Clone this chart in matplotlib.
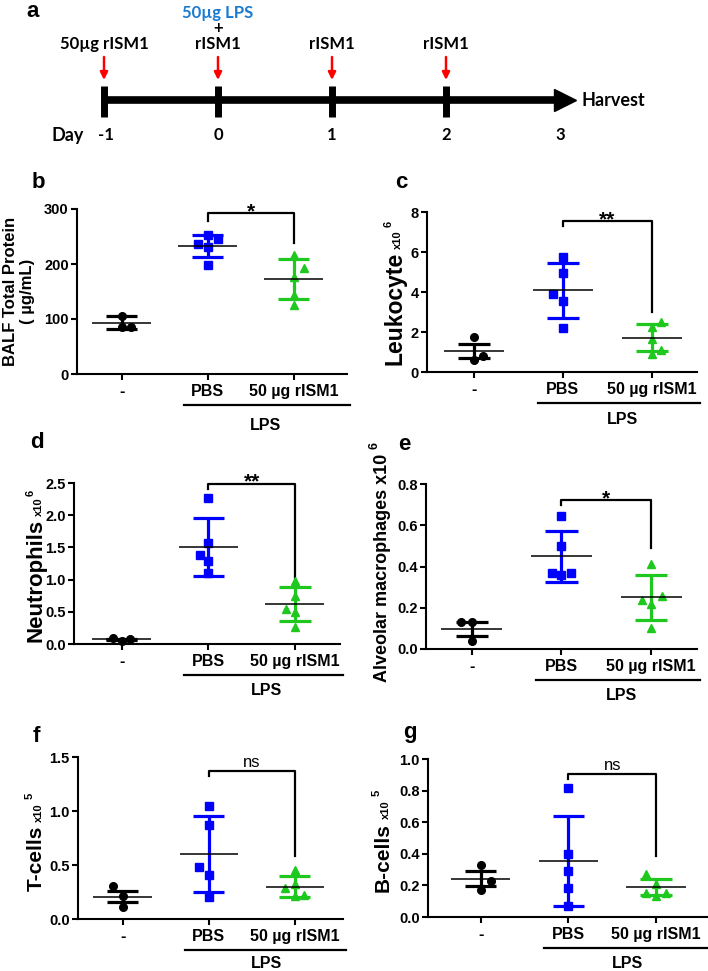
import numpy as np
import matplotlib.pyplot as plt
from matplotlib.transforms import IdentityTransform, blended_transform_factory, offset_copy

plt.rcParams['font.family'] = ['Liberation Sans', 'DejaVu Sans']
plt.rcParams['font.weight'] = 'bold'
plt.rcParams['axes.linewidth'] = 1.5

W, H = 708, 971

# ------------------------------------------------------------
# Data
groups = ['-', 'PBS', '50 µg rISM1']
colors = ['black', '#0000ff', '#1ec81e']
markers = ['o', 's', '^']

# timeline (panel a)
days = [-1, 0, 1, 2, 3]
dose_days = [-1, 0, 1, 2]
dose_text = ['50µg rISM1', 'rISM1', 'rISM1', 'rISM1']

# b: BALF total protein (µg/mL)
protein_pts = [[106, 86, 86], [253, 245, 237, 231, 199], [217, 193, 176, 144, 126]]
protein_off = [[0, 0, 0.11], [0, 0.12, -0.11, 0, 0], [0, 0.12, 0, 0, 0]]
protein_mean = [93, 232, 172]
protein_sd = [12, 20, 36.5]
protein_bracket = [293, 278, 238]

# c: leukocytes x10^6
leuko_pts = [[1.75, 0.62, 0.82], [5.75, 4.95, 3.92, 3.55, 2.2], [2.48, 2.23, 1.65, 1.08, 0.92]]
leuko_off = [[0, 0, 0.1], [0, 0, -0.11, 0, 0], [0.11, 0, 0, 0.11, 0]]
leuko_mean = [1.05, 4.08, 1.72]
leuko_sd = [0.37, 1.36, 0.68]
leuko_bracket = [7.53, 7.28, 2.98]

# d: neutrophils x10^6
neut_pts = [[0.09, 0.08, 0.04], [2.26, 1.57, 1.38, 1.29, 1.10], [0.98, 0.75, 0.55, 0.49, 0.27]]
neut_off = [[-0.1, 0.1, 0], [0, 0, -0.1, 0, 0], [0, 0, -0.1, 0, 0]]
neut_mean = [0.07, 1.51, 0.62]
neut_sd = [0.015, 0.45, 0.27]
neut_bracket = [2.49, 2.41, 1.02]

# e: alveolar macrophages x10^6
macro_pts = [[0.13, 0.13, 0.04], [0.643, 0.50, 0.37, 0.37, 0.36], [0.41, 0.255, 0.24, 0.22, 0.10]]
macro_off = [[-0.12, 0, 0], [0, 0, -0.11, 0.11, 0], [0, 0.12, -0.1, 0, 0]]
macro_mean = [0.097, 0.45, 0.25]
macro_sd = [0.032, 0.124, 0.109]
macro_bracket = [0.722, 0.70, 0.49]

# f: T-cells x10^5
tcell_pts = [[0.31, 0.21, 0.11], [1.05, 0.87, 0.485, 0.41, 0.20], [0.45, 0.32, 0.285, 0.22, 0.21]]
tcell_off = [[-0.11, 0, 0], [0, 0, -0.11, 0, 0], [0, 0, -0.11, 0.11, 0]]
tcell_mean = [0.207, 0.60, 0.30]
tcell_sd = [0.054, 0.35, 0.10]
tcell_bracket = [1.37, 1.32, 0.58]

# g: B-cells x10^5
bcell_pts = [[0.33, 0.23, 0.17], [0.815, 0.40, 0.29, 0.185, 0.068], [0.27, 0.21, 0.155, 0.15, 0.135]]
bcell_off = [[0, 0.12, 0], [0, 0, 0, 0, 0], [-0.11, 0, -0.11, 0.11, 0]]
bcell_mean = [0.243, 0.352, 0.188]
bcell_sd = [0.048, 0.285, 0.05]
bcell_bracket = [0.907, 0.875, 0.384]

# ------------------------------------------------------------
fig = plt.figure(figsize=(W / 100, H / 100), dpi=100)
renderer = fig.canvas.get_renderer()


def stacked_label(parts, x_base, y_center):
    # rotated label made of pieces: (text, size, lift_px, gap_px)
    items = []
    for s, size, lift, gap in parts:
        t = fig.text(0, 0, s, fontsize=size, fontweight='bold', rotation=90,
                     rotation_mode='anchor', ha='left', va='baseline',
                     transform=IdentityTransform())
        items.append((t, lift, gap, t.get_window_extent(renderer).height))
    total = sum(L + g for _, _, g, L in items)
    y = (H - y_center) - total / 2
    for t, lift, gap, L in items:
        y += gap
        t.set_position((x_base - lift, y))
        y += L


def draw_panel(rect, xlim, pts, offs, means, sds, ylim, yticks, fmt, bracket, sig, lps_dy=48):
    l, t, r, b = rect
    ax = fig.add_axes([l / W, 1 - b / H, (r - l) / W, (b - t) / H])
    for i in range(3):
        c = colors[i]
        lo, hi = means[i] - sds[i], means[i] + sds[i]
        ax.vlines(i, lo, hi, color=c, lw=2.3, zorder=2)
        ax.hlines([lo, hi], i - 0.18, i + 0.18, color=c, lw=2.3, zorder=2)
        ax.plot(i + np.array(offs[i]), pts[i], ls='none', marker=markers[i], ms=5.5,
                color=c, zorder=3, clip_on=False)
        ax.hlines(means[i], i - 0.34, i + 0.34, color='black', lw=1.1, zorder=4)
    ax.set_xlim(xlim)
    ax.set_ylim(ylim)
    ax.spines[['top', 'right']].set_visible(False)
    ax.set_yticks(yticks)
    ax.set_yticklabels([fmt.format(v) for v in yticks])
    ax.set_xticks(range(3))
    ax.set_xticklabels(groups, fontsize=11.5, fontweight='bold')
    ax.tick_params(axis='y', length=4, width=1.5, pad=2, labelsize=10.5)
    ax.tick_params(axis='x', length=4, width=1.5, pad=3)

    top, le, re = bracket
    ax.plot([1, 1, 2, 2], [le, top, top, re], color='black', lw=1.6, clip_on=False)
    if sig == 'ns':
        ax.annotate(sig, xy=(1.5, top), xytext=(0, 3), textcoords='offset points',
                    ha='center', va='baseline', fontsize=12, fontweight='normal')
    else:
        ax.annotate(sig, xy=(1.5, top), xytext=(0, -3), textcoords='offset points',
                    ha='center', va='baseline', fontsize=15, fontweight='bold')

    tr = blended_transform_factory(ax.transData, ax.transAxes)
    ax.plot([0.72, xlim[1] + 0.03], [0, 0], color='black', lw=1.6, clip_on=False,
            transform=offset_copy(tr, fig=fig, y=-31, units='dots'))
    ax.text(1.67, 0, 'LPS', ha='center', va='center', fontsize=11.5, fontweight='bold',
            transform=offset_copy(tr, fig=fig, y=-lps_dy, units='dots'))
    return ax


# ------------------------------------------------------------
# Panel a: timeline
ax0 = fig.add_axes([0, 1 - 150 / H, 1, 150 / H])
ax0.set_xlim(-1 - 104 / 114, -1 + (W - 104) / 114)
ax0.set_ylim(150, 0)
ax0.axis('off')
tl_font = dict(family=['Lato', 'DejaVu Sans'], fontweight='bold', fontsize=12)
ax0.plot([days[0], days[-1] - 0.05], [100, 100], color='black', lw=5.5, solid_capstyle='butt')
ax0.plot([days[-1] + 0.04], [100], marker='>', ms=16, color='black', ls='none')
ax0.vlines(days[:-1], 86, 117, color='black', lw=5)
for d, s in zip(dose_days, dose_text):
    ax0.annotate('', xy=(d, 80), xytext=(d, 57),
                 arrowprops=dict(arrowstyle='-|>', color='red', lw=1.8,
                                 mutation_scale=11, shrinkA=0, shrinkB=0))
    ax0.text(d, 44, s, ha='center', va='center', **tl_font)
ax0.text(0, 28, '+', ha='center', va='center', **tl_font)
ax0.text(0, 13, '50µg LPS', ha='center', va='center', color='#1a7bd0', **tl_font)
ax0.text(days[-1] + 0.19, 100, 'Harvest', ha='left', va='center',
         **dict(tl_font, fontsize=13))
ax0.text(-1.32, 135, 'Day', ha='center', va='center', **dict(tl_font, fontsize=13))
for d in days:
    ax0.text(d + (0.02 if d < 0 else 0), 135, str(d), ha='center', va='center', **tl_font)

# ------------------------------------------------------------
# Panels b-g
draw_panel((77, 209, 347, 374), (-0.52, 2.62), protein_pts, protein_off, protein_mean,
           protein_sd, (0, 300), [0, 100, 200, 300], '{:.0f}', protein_bracket, '*', 52)
draw_panel((427, 212, 697, 372), (-0.53, 2.51), leuko_pts, leuko_off, leuko_mean,
           leuko_sd, (0, 8), [0, 2, 4, 6, 8], '{:.0f}', leuko_bracket, '**')
draw_panel((74, 483, 340, 644), (-0.55, 2.52), neut_pts, neut_off, neut_mean,
           neut_sd, (0, 2.5), [0, 0.5, 1.0, 1.5, 2.0, 2.5], '{:.1f}', neut_bracket, '**', 46)
draw_panel((426, 484, 697, 649), (-0.51, 2.51), macro_pts, macro_off, macro_mean,
           macro_sd, (0, 0.8), [0, 0.2, 0.4, 0.6, 0.8], '{:.1f}', macro_bracket, '*', 46)
draw_panel((78, 757, 343, 919), (-0.52, 2.56), tcell_pts, tcell_off, tcell_mean,
           tcell_sd, (0, 1.5), [0, 0.5, 1.0, 1.5], '{:.1f}', tcell_bracket, 'ns', 44)
draw_panel((428, 759, 707, 917), (-0.6, 2.58), bcell_pts, bcell_off, bcell_mean,
           bcell_sd, (0, 1.0), [0, 0.2, 0.4, 0.6, 0.8, 1.0], '{:.1f}', bcell_bracket, 'ns', 46)

# y labels
fig.text(19 / W, 1 - 291 / H, 'BALF Total Protein\n( µg/mL)', rotation=90, ha='center',
         va='center', fontsize=12, fontweight='bold', linespacing=1.1)
stacked_label([('Leukocyte', 16.5, 0, 0), ('x10', 8, 0, 3), ('6', 8, 9, 3)], 401, 293)
stacked_label([('Neutrophils', 16, 0, 0), ('x10', 8, 0, 3), ('6', 8, 8, 1)], 42, 566)
stacked_label([('Alveolar macrophages x10', 13, 0, 0), ('6', 9, 9, 4)], 387, 562)
stacked_label([('T-cells', 15, 0, 0), ('x10', 8, 0, 4), ('5', 8, 9, 4)], 42, 842)
stacked_label([('B-cells', 15, 0, 0), ('x10', 8, 0, 4), ('5', 8, 9, 4)], 389, 841)

# panel letters
fig.text(33 / W, 1 - 1 / H, 'a', fontsize=16, fontweight='bold', ha='center', va='top')
for letter, (px, py) in zip('bcdefg', [(38, 183), (401, 182), (37, 442),
                                       (404, 445), (36, 736), (410, 732)]):
    fig.text(px / W, 1 - py / H, letter, fontsize=16, fontweight='bold',
             ha='center', va='center')

fig.savefig('out.png', dpi=100)
